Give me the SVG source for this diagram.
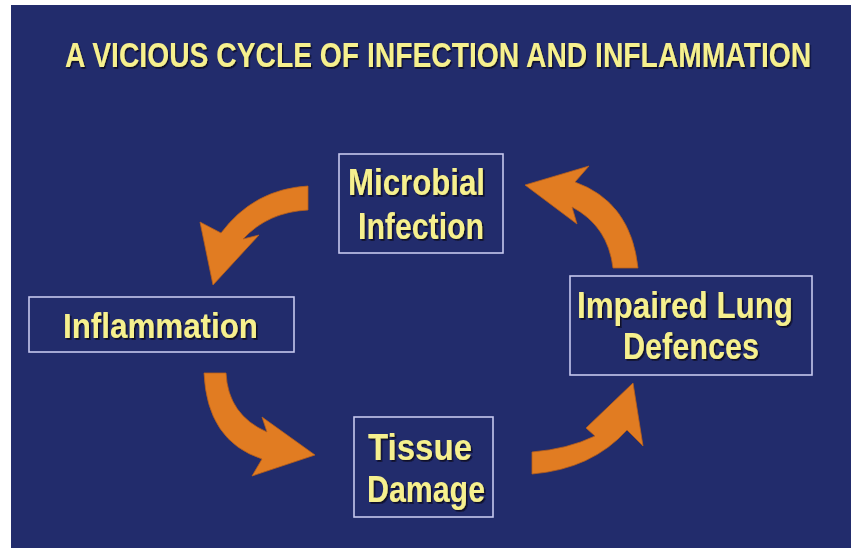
<svg xmlns="http://www.w3.org/2000/svg" width="851" height="548" viewBox="0 0 851 548">
<defs>
<filter id="sh" x="-10%" y="-50%" width="120%" height="200%">
<feDropShadow dx="1.6" dy="1.8" stdDeviation="0.6" flood-color="#0a0d25" flood-opacity="0.95"/>
</filter>
</defs>
<style>
.t{font-family:"Liberation Sans",Arial,sans-serif;font-weight:bold;fill:#f6f08e;filter:url(#sh)}
.box{fill:none;stroke:#c6c8ee;stroke-width:1.6}
.arr{fill:#e17c22;stroke:#b8601a;stroke-width:0.8;stroke-linejoin:miter}
</style>
<rect x="0" y="0" width="851" height="548" fill="#ffffff"/>
<rect x="11" y="5" width="840" height="543" fill="#222c6c"/>
<g id="title" transform="translate(65 67) scale(0.785 1)">
<text class="t" x="0" y="0" font-size="36">A VICIOUS CYCLE OF INFECTION AND INFLAMMATION</text>
</g>
<g id="connectors">
<path class="arr" d="M 308 186 Q 254 189 221 233 L 200 222 L 213 285 L 259 235 L 243 239 Q 268 212 308 210 Z"/>
<path class="arr" d="M 638 268 L 613 268 Q 608 226 572 207 L 577 224 L 525 185 L 589 166 L 575 182 Q 631 202 638 268 Z"/>
<path class="arr" d="M 204 373 L 226 373 Q 228 415 267 432 L 262 417 L 315 455 L 252 476 L 262 459 Q 207 441 204 373 Z"/>
<path class="arr" d="M 532 452 Q 568 449 595 436 L 586 428 L 633 383 L 643 446 L 627 430 Q 592 469 532 474 Z"/>
</g>
<g id="microbial">
<rect class="box" x="339" y="154" width="164" height="99"/>
<text class="t" x="348" y="195" font-size="36" textLength="137" lengthAdjust="spacingAndGlyphs">Microbial</text>
<text class="t" x="358" y="239" font-size="36" textLength="126" lengthAdjust="spacingAndGlyphs">Infection</text>
</g>
<g id="inflammation">
<rect class="box" x="29" y="297" width="265" height="55"/>
<text class="t" x="63" y="338" font-size="35" textLength="195" lengthAdjust="spacingAndGlyphs">Inflammation</text>
</g>
<g id="impaired">
<rect class="box" x="570" y="276" width="242" height="99"/>
<text class="t" x="577" y="318" font-size="37" textLength="216" lengthAdjust="spacingAndGlyphs">Impaired Lung</text>
<text class="t" x="623" y="359" font-size="36" textLength="136" lengthAdjust="spacingAndGlyphs">Defences</text>
</g>
<g id="tissue">
<rect class="box" x="354" y="417" width="139" height="100"/>
<text class="t" x="368" y="460" font-size="36" textLength="104" lengthAdjust="spacingAndGlyphs">Tissue</text>
<text class="t" x="367" y="502" font-size="36" textLength="118" lengthAdjust="spacingAndGlyphs">Damage</text>
</g>
</svg>
